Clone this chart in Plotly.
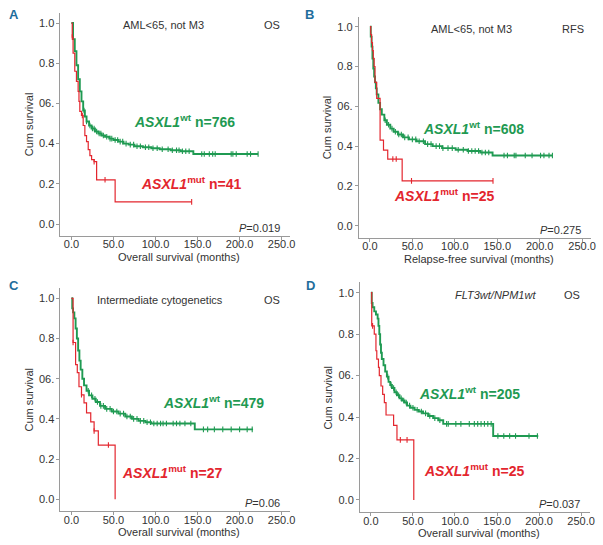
import plotly.graph_objects as go

GREEN = "#1f9a52"
RED = "#e3262e"
BLUE = "#1f6e9c"
GREY_TXT = "#333333"
FONT = "Liberation Sans Narrow, Arial Narrow, Liberation Sans, sans-serif"

# ---- panel A: AML<65, not M3, OS ----
a_wt_t = [0, 2, 4, 6, 8, 10, 12, 14, 16, 18, 21, 24, 28, 32, 36, 40, 45, 50, 56, 62, 68, 75, 85, 95, 105, 118, 130, 145, 222]
a_wt_s = [1.0, 0.92, 0.86, 0.79, 0.72, 0.66, 0.61, 0.565, 0.535, 0.51, 0.49, 0.475, 0.46, 0.45, 0.44, 0.434, 0.425, 0.418,
          0.41, 0.40, 0.395, 0.387, 0.382, 0.377, 0.372, 0.367, 0.362, 0.348, 0.348]
a_wt_cens = [15, 18, 22, 25, 27, 30, 33, 35, 38, 42, 46, 48, 52, 55, 58, 61, 65, 70, 74, 78, 82, 88, 92, 97, 102, 108,
             115, 120, 125, 128, 132, 136, 140, 155, 158, 164, 168, 171, 190, 192, 196, 209, 213, 222]
a_mut_t = [0, 1, 2, 4, 6, 8, 9, 10, 12, 14, 16, 18, 20, 22, 24, 27, 30, 52, 143]
a_mut_s = [1.0, 0.93, 0.85, 0.76, 0.71, 0.66, 0.61, 0.56, 0.54, 0.49, 0.44, 0.41, 0.37, 0.34, 0.32, 0.31, 0.22, 0.11, 0.11]
a_mut_cens = [1, 13, 27, 40, 143]

# ---- panel B: AML<65, not M3, RFS ----
b_wt_t = [0, 1, 2, 3, 4, 5, 6, 7, 8, 10, 12, 14, 17, 20, 24, 28, 33, 39, 46, 55, 65, 74, 85, 101, 115, 130, 144.5, 215]
b_wt_s = [1.0, 0.95, 0.9, 0.84, 0.79, 0.75, 0.72, 0.69, 0.66, 0.617, 0.585, 0.558, 0.53, 0.507, 0.488, 0.472, 0.458,
          0.444, 0.434, 0.424, 0.41, 0.40, 0.39, 0.382, 0.375, 0.368, 0.353, 0.353]
b_wt_cens = [18, 22, 26, 30, 34, 37, 41, 45, 50, 54, 58, 63, 68, 72, 78, 82, 86, 92, 97, 104, 110, 116, 120, 124, 128,
             132, 136, 140, 158, 162, 170, 172, 183, 191, 201, 205, 211, 215]
b_mut_t = [0, 1, 2, 3, 4, 5, 6, 8, 12, 16, 21, 38, 145]
b_mut_s = [1.0, 0.96, 0.92, 0.88, 0.84, 0.80, 0.72, 0.64, 0.43, 0.38, 0.335, 0.225, 0.225]
b_mut_cens = [27, 31, 49, 145]

# ---- panel C: intermediate cytogenetics, OS ----
c_wt_t = [0, 1, 2, 3.5, 5, 6.5, 8, 9.5, 11, 13, 15, 18, 21, 25, 29, 34, 40, 48, 56, 64, 72, 80, 88, 95, 146.7, 216]
c_wt_s = [1.0, 0.95, 0.93, 0.90, 0.85, 0.80, 0.74, 0.69, 0.645, 0.60, 0.567, 0.54, 0.517, 0.50, 0.484, 0.465, 0.45,
          0.437, 0.426, 0.412, 0.40, 0.39, 0.383, 0.377, 0.348, 0.348]
c_wt_cens = [20, 24, 28, 31, 35, 38, 42, 46, 50, 54, 58, 62, 66, 70, 74, 78, 82, 86, 90, 94, 98, 102, 106, 109, 113,
             121, 125, 129, 135, 142, 157, 162, 170, 180, 190, 200, 209, 215]
c_mut_t = [0, 2, 5, 7, 9, 12, 15, 18, 23, 27, 32, 52]
c_mut_s = [1.0, 0.78, 0.67, 0.63, 0.56, 0.52, 0.48, 0.43, 0.385, 0.34, 0.27, 0.0]
c_mut_cens = [2, 12, 27, 44]

# ---- panel D: FLT3wt/NPM1wt, OS ----
d_wt_t = [0, 1, 2, 4, 6, 8, 9, 10, 11, 12, 13, 15, 17, 19, 21, 23, 25, 28, 31, 34, 37, 40, 43, 47, 52, 57, 62, 68, 74,
          80, 86, 145.4, 199]
d_wt_s = [1.0, 0.95, 0.93, 0.91, 0.895, 0.875, 0.84, 0.80, 0.75, 0.71, 0.68, 0.65, 0.62, 0.595, 0.57, 0.555, 0.54, 0.52,
          0.505, 0.49, 0.48, 0.47, 0.455, 0.445, 0.435, 0.427, 0.418, 0.405, 0.395, 0.385, 0.367, 0.309, 0.309]
d_wt_cens = [20, 24, 27, 30, 33, 36, 39, 42, 46, 50, 55, 60, 65, 70, 76, 82, 90, 92, 101, 107, 117, 123, 127, 131, 135,
             139, 143, 151, 158, 165, 172, 188, 198]
d_mut_t = [0, 1, 4, 6, 7, 9, 10, 12, 14, 16, 18, 27, 31, 51]
d_mut_s = [1.0, 0.84, 0.80, 0.72, 0.68, 0.64, 0.60, 0.55, 0.51, 0.47, 0.41, 0.36, 0.29, 0.0]
d_mut_cens = [2, 35, 43]

y_tickvals = [0.0, 0.2, 0.4, 0.6, 0.8, 1.0]
y_ticktext = ["0.0", "0.2", "0.4", "06.", "0.8", "1.0"]
x_tickvals = [0, 50, 100, 150, 200, 250]
x_ticktext = ["0.0", "50.0", "100.0", "150.0", "200.0", "250.0"]

W, H = 603, 545
XR = [-13, 260]
YR = [-0.06, 1.05]

# pixel positions of x=0, x=250, y=1 and y=0 for each panel
panels = [
    dict(letter="A", pos=(72, 284, 23, 224), wt=(a_wt_t, a_wt_s, a_wt_cens), mut=(a_mut_t, a_mut_s, a_mut_cens),
         n_wt=766, n_mut=41, sub="AML<65, not M3", sub_x=165, end="OS", p="0.019", xtitle="Overall survival (months)",
         wt_lab=(133, 121), mut_lab=(140, 183)),
    dict(letter="B", pos=(373, 587, 26.7, 225.7), wt=(b_wt_t, b_wt_s, b_wt_cens), mut=(b_mut_t, b_mut_s, b_mut_cens),
         n_wt=608, n_mut=25, sub="AML<65, not M3", sub_x=475, end="RFS", p="0.275",
         xtitle="Relapse-free survival (months)", wt_lab=(425, 128), mut_lab=(395, 195)),
    dict(letter="C", pos=(72, 284, 298.3, 499.3), wt=(c_wt_t, c_wt_s, c_wt_cens), mut=(c_mut_t, c_mut_s, c_mut_cens),
         n_wt=479, n_mut=27, sub="Intermediate cytogenetics", sub_x=161, end="OS", p="0.06",
         xtitle="Overall survival (months)", wt_lab=(162, 402), mut_lab=(121, 472)),
    dict(letter="D", pos=(374, 586, 292.7, 500), wt=(d_wt_t, d_wt_s, d_wt_cens), mut=(d_mut_t, d_mut_s, d_mut_cens),
         n_wt=205, n_mut=25, sub="<i>FLT3wt/NPM1wt</i>", sub_x=500, end="OS", p="0.037",
         xtitle="Overall survival (months)", wt_lab=(420, 393), mut_lab=(426, 470)),
]


def px(x):
    return x / W


def py(y):
    return 1 - y / H


def step_value(ts, ss, c):
    val = ss[0]
    for t, s in zip(ts, ss):
        if t <= c:
            val = s
    return val


fig = go.Figure()
annotations = []

for i, p in enumerate(panels):
    k = "" if i == 0 else str(i + 1)
    x0, x250, y1, y0 = p["pos"]
    sx = (x250 - x0) / 250.0
    sy = (y0 - y1)
    left = x0 + XR[0] * sx
    right = x0 + XR[1] * sx
    bottom = y0 - YR[0] * sy
    top = y0 - YR[1] * sy

    for (ts, ss, cens), col, w in [(p["wt"], GREEN, 1.9), (p["mut"], RED, 1.2)]:
        fig.add_trace(go.Scatter(x=ts, y=ss, mode="lines", line=dict(color=col, width=w, shape="hv"),
                                 xaxis="x" + k, yaxis="y" + k, showlegend=False, hoverinfo="skip"))
        fig.add_trace(go.Scatter(x=cens, y=[step_value(ts, ss, c) for c in cens], mode="markers",
                                 marker=dict(symbol="line-ns-open", size=4, color=col, line=dict(color=col, width=1.1)),
                                 xaxis="x" + k, yaxis="y" + k, showlegend=False, hoverinfo="skip"))

    axis_common = dict(showline=True, linecolor="#9a9a9a", linewidth=1, ticks="outside", ticklen=3,
                       tickcolor="#9a9a9a", showgrid=False, zeroline=False,
                       tickfont=dict(family=FONT, size=11, color=GREY_TXT))
    fig.update_layout(**{
        "xaxis" + k: dict(domain=[px(left), px(right)], range=XR, anchor="y" + k, tickvals=x_tickvals,
                          ticktext=x_ticktext, ticklabelstandoff=-5, **axis_common),
        "yaxis" + k: dict(domain=[py(bottom), py(top)], range=YR, anchor="x" + k, tickvals=y_tickvals,
                          ticktext=y_ticktext, **axis_common),
    })

    def ann(text, x, y, xanchor="center", size=11, color=GREY_TXT, family=FONT, textangle=0):
        annotations.append(dict(text=text, x=px(x), y=py(y), xref="paper", yref="paper", xanchor=xanchor,
                                yanchor="middle", showarrow=False, textangle=textangle,
                                font=dict(family=family, size=size, color=color)))

    row_y = 14 if i < 2 else 285
    ann("<b>" + p["letter"] + "</b>", left - 47 if i % 2 == 0 else left - 50, row_y, size=13, color=BLUE)
    ann(p["sub"], p["sub_x"], y1 + 2, size=11)
    ann(p["end"], right - 18, y1 + 2, size=11)
    ann("<i>P</i>=" + p["p"], right - 8, y0 + 4, xanchor="right", size=11)
    ann(p["xtitle"], (left + right) / 2 + 4, bottom + 21, size=11)
    ann("Cum survival", left - 32, (top + bottom) / 2, size=11, textangle=-90)
    ann("<b><i>ASXL1</i><sup>wt</sup> n=%d</b>" % p["n_wt"], p["wt_lab"][0], p["wt_lab"][1], xanchor="left",
        size=14, color=GREEN, family="Liberation Sans, Arial, sans-serif")
    ann("<b><i>ASXL1</i><sup>mut</sup> n=%d</b>" % p["n_mut"], p["mut_lab"][0], p["mut_lab"][1], xanchor="left",
        size=14, color=RED, family="Liberation Sans, Arial, sans-serif")

fig.update_layout(
    width=W, height=H,
    margin=dict(l=0, r=0, t=0, b=0),
    paper_bgcolor="white",
    plot_bgcolor="white",
    annotations=annotations,
)

fig.write_html("out.html", config={"displayModeBar": False},
               post_script="document.body.style.margin='0px';")
